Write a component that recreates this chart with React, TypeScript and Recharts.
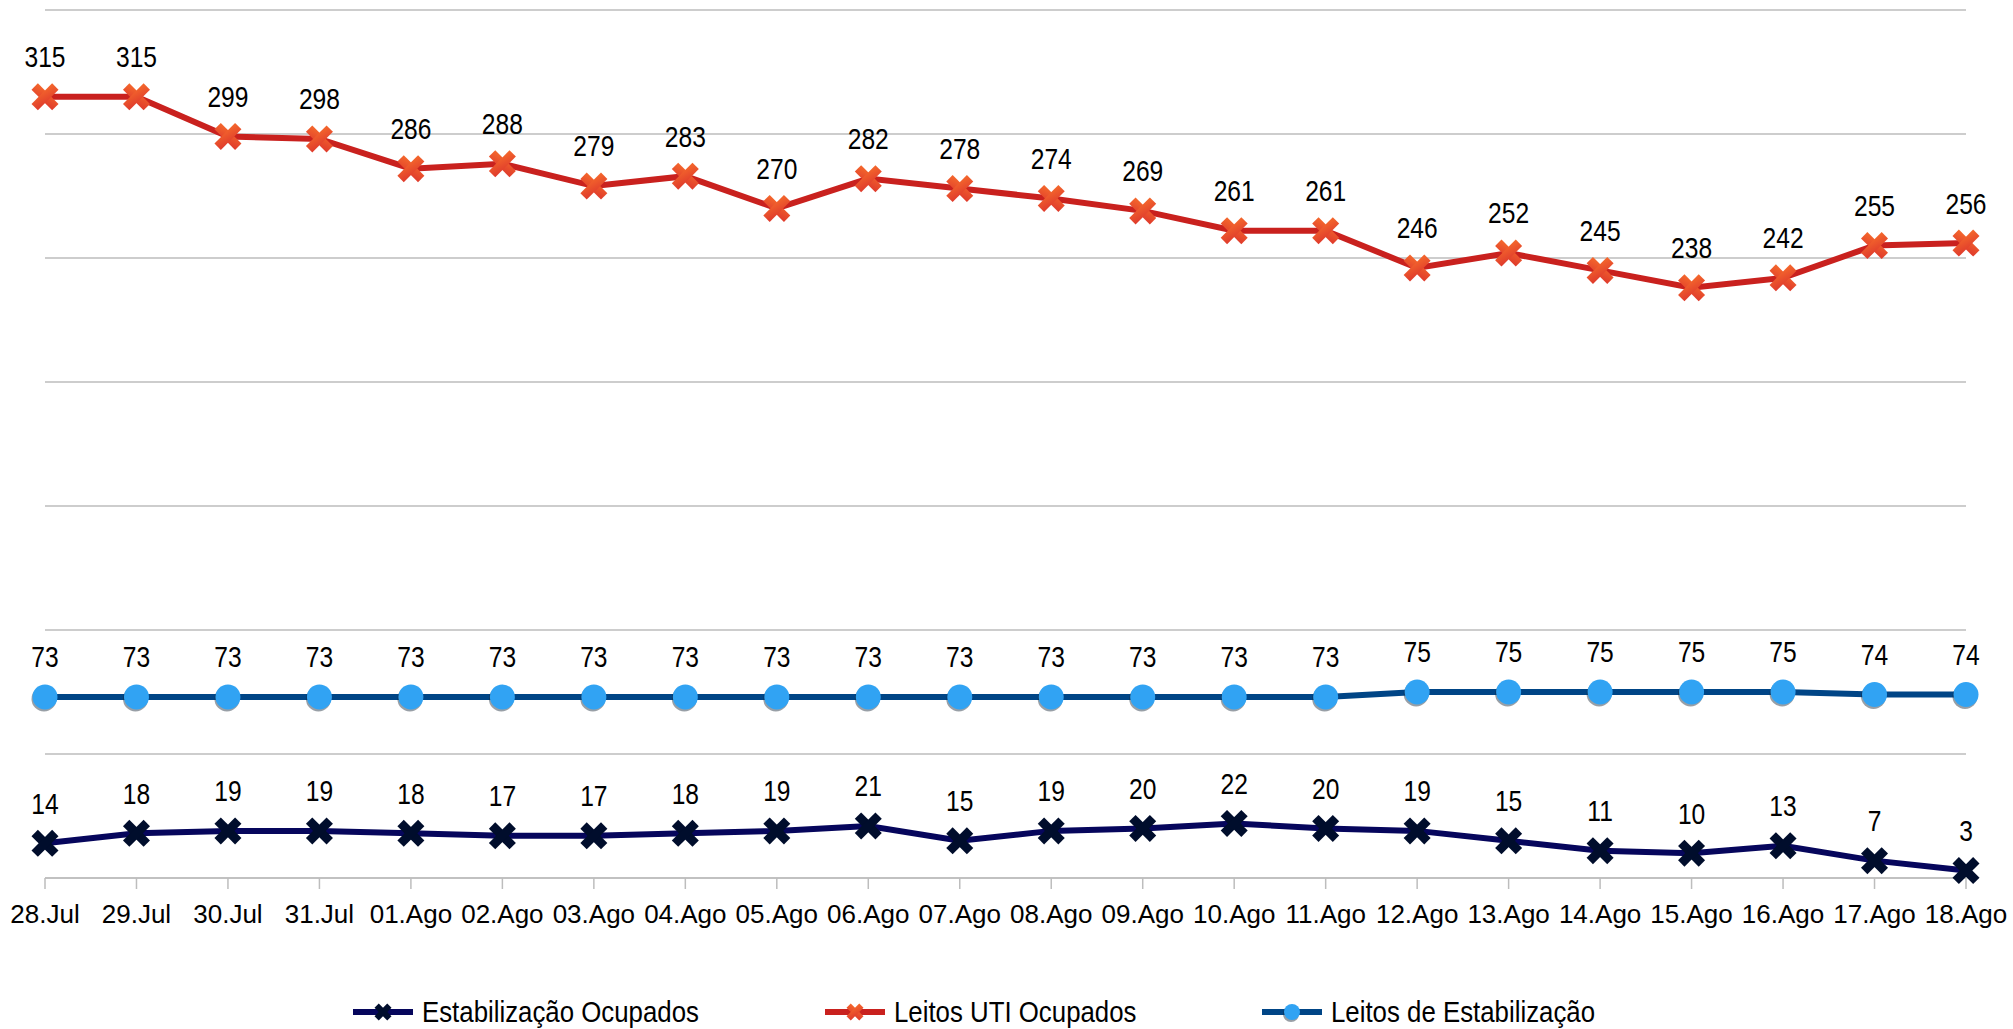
import { LineChart, Line, XAxis, YAxis, CartesianGrid, Legend, LabelList } from "recharts";

const dates = [
  "28.Jul", "29.Jul", "30.Jul", "31.Jul", "01.Ago", "02.Ago", "03.Ago", "04.Ago",
  "05.Ago", "06.Ago", "07.Ago", "08.Ago", "09.Ago", "10.Ago", "11.Ago", "12.Ago",
  "13.Ago", "14.Ago", "15.Ago", "16.Ago", "17.Ago", "18.Ago"
];
const estabOcupados = [14, 18, 19, 19, 18, 17, 17, 18, 19, 21, 15, 19, 20, 22, 20, 19, 15, 11, 10, 13, 7, 3];
const leitosUti = [315, 315, 299, 298, 286, 288, 279, 283, 270, 282, 278, 274, 269, 261, 261, 246, 252, 245, 238, 242, 255, 256];
const leitosEstab = [73, 73, 73, 73, 73, 73, 73, 73, 73, 73, 73, 73, 73, 73, 73, 75, 75, 75, 75, 75, 74, 74];
const yTicks = [0, 50, 100, 150, 200, 250, 300, 350];

const data = dates.map((date, i) => ({
  date,
  estabOcupados: estabOcupados[i],
  uti: leitosUti[i],
  estab: leitosEstab[i]
}));

// no narrow font installed, so regular Liberation Sans squeezed horizontally
const FONT = "'Liberation Sans', Arial, sans-serif";

const RED_LINE = "#c9211e";
const NAVY_LINE = "#06065c";
const NAVY_MARK = "#000d2c";
const BLUE_LINE = "#004586";
const BLUE_MARK = "#31a3f3";

const Cross = ({ cx, cy, fill, size = 27, t = 9 }: any) => {
  const L = size * Math.SQRT2 - t;
  return (
    <g transform={`translate(${cx},${cy}) rotate(45)`}>
      <rect x={-L / 2} y={-t / 2} width={L} height={t} fill={fill} />
      <rect x={-t / 2} y={-L / 2} width={t} height={L} fill={fill} />
    </g>
  );
};

const Ball = ({ cx, cy, r = 12.5 }: any) => (
  <g>
    <circle cx={cx - 1} cy={cy + 2} r={r} fill="#1a2a3a" opacity={0.45} />
    <circle cx={cx} cy={cy} r={r} fill={BLUE_MARK} />
  </g>
);

const redDot = (p: any) => <Cross key={`r${p.index}`} cx={p.cx} cy={p.cy} fill="url(#redGrad)" />;
const navyDot = (p: any) => <Cross key={`n${p.index}`} cx={p.cx} cy={p.cy} fill={NAVY_MARK} />;
const blueDot = (p: any) => <Ball key={`b${p.index}`} cx={p.cx} cy={p.cy} />;

const valueLabel = (p: any) => (
  <text
    transform={`translate(${p.x},${p.y - 40}) scale(0.82,1)`}
    x={0}
    y={0}
    textAnchor="middle"
    dominantBaseline="central"
    fontFamily={FONT}
    fontSize={30}
    fill="#000"
  >
    {p.value}
  </text>
);

const DateTick = ({ x, y, payload }: any) => (
  <text x={x} y={y + 23} textAnchor="middle" dominantBaseline="central" fontFamily={FONT} fontSize={26} fill="#000">
    {payload.value}
  </text>
);

const legendItems = [
  { label: "Estabilização Ocupados", line: NAVY_LINE, kind: "navy", left: 353 },
  { label: "Leitos UTI Ocupados", line: RED_LINE, kind: "red", left: 825 },
  { label: "Leitos de Estabilização", line: BLUE_LINE, kind: "blue", left: 1262 }
];

const LegendContent = () => (
  <div style={{ position: "relative", width: 2013, height: 40 }}>
    {legendItems.map(item => (
      <div
        key={item.label}
        style={{ position: "absolute", left: item.left, top: 0, height: 40, display: "flex", alignItems: "center" }}
      >
        <svg width={60} height={30}>
          <defs>
            <linearGradient id={`lg-${item.kind}`} x1="0" y1="0" x2="1" y2="1">
              <stop offset="0%" stopColor="#f4682c" />
              <stop offset="100%" stopColor="#df3a2c" />
            </linearGradient>
          </defs>
          <line x1={0} y1={15} x2={60} y2={15} stroke={item.line} strokeWidth={6} />
          {item.kind === "blue" ? (
            <Ball cx={30} cy={15} r={8} />
          ) : (
            <Cross cx={30} cy={15} size={17} t={6} fill={item.kind === "red" ? `url(#lg-${item.kind})` : NAVY_MARK} />
          )}
        </svg>
        <span
          style={{
            marginLeft: 9,
            display: "inline-block",
            transform: "scaleX(0.89)",
            transformOrigin: "left center",
            fontFamily: FONT,
            fontSize: 29,
            color: "#000",
            whiteSpace: "nowrap"
          }}
        >
          {item.label}
        </span>
      </div>
    ))}
  </div>
);

export default function App() {
  return (
    <div style={{ position: "absolute", left: 0, top: 0, background: "#fff" }}>
      <LineChart width={2013} height={1029} data={data} margin={{ top: 10, right: 47, left: 45, bottom: 111 }}>
        <defs>
          <linearGradient id="redGrad" x1="0" y1="0" x2="1" y2="1">
            <stop offset="0%" stopColor="#f4682c" />
            <stop offset="100%" stopColor="#df3a2c" />
          </linearGradient>
        </defs>
        <CartesianGrid vertical={false} stroke="#bdbdbd" strokeWidth={1.5} />
        <YAxis hide domain={[0, 350]} ticks={yTicks} />
        <XAxis
          dataKey="date"
          height={40}
          tick={<DateTick />}
          tickSize={11}
          axisLine={{ stroke: "#bdbdbd", strokeWidth: 1.5 }}
          tickLine={{ stroke: "#bdbdbd", strokeWidth: 1.5 }}
          interval={0}
        />
        <Legend
          verticalAlign="middle"
          wrapperStyle={{ top: 992, left: 0, width: 2013 }}
          content={<LegendContent />}
        />
        <Line
          dataKey="estab"
          name="Leitos de Estabilização"
          stroke={BLUE_LINE}
          strokeWidth={6}
          dot={blueDot}
          activeDot={false}
          isAnimationActive={false}
        >
          <LabelList dataKey="estab" content={valueLabel} />
        </Line>
        <Line
          dataKey="uti"
          name="Leitos UTI Ocupados"
          stroke={RED_LINE}
          strokeWidth={6}
          dot={redDot}
          activeDot={false}
          isAnimationActive={false}
        >
          <LabelList dataKey="uti" content={valueLabel} />
        </Line>
        <Line
          dataKey="estabOcupados"
          name="Estabilização Ocupados"
          stroke={NAVY_LINE}
          strokeWidth={6}
          dot={navyDot}
          activeDot={false}
          isAnimationActive={false}
        >
          <LabelList dataKey="estabOcupados" content={valueLabel} />
        </Line>
      </LineChart>
    </div>
  );
}
